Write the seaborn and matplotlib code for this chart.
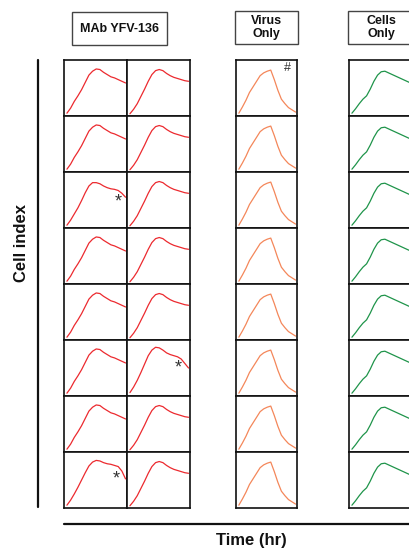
import numpy as np
import pandas as pd
import seaborn as sns
import matplotlib.pyplot as plt
from matplotlib.patches import Rectangle
from matplotlib.lines import Line2D

sns.set_style("white")
plt.rcParams["font.family"] = ["Liberation Sans", "DejaVu Sans"]

time_hr = [0, 5, 10, 15, 20, 25, 30, 35, 40, 45, 50, 55, 60, 65, 70, 75, 80]

mab_col1 = [0.05, 0.14, 0.26, 0.36, 0.47, 0.60, 0.73, 0.80, 0.84, 0.83, 0.78, 0.74, 0.70, 0.68, 0.65, 0.62, 0.59]
mab_col2 = [0.04, 0.12, 0.22, 0.35, 0.48, 0.62, 0.74, 0.81, 0.83, 0.81, 0.76, 0.72, 0.69, 0.67, 0.65, 0.63, 0.62]
mab_star1 = [0.05, 0.14, 0.25, 0.36, 0.49, 0.63, 0.75, 0.81, 0.81, 0.79, 0.75, 0.72, 0.70, 0.69, 0.67, 0.62, 0.55]
mab_star2 = [0.06, 0.16, 0.28, 0.42, 0.57, 0.72, 0.82, 0.87, 0.86, 0.82, 0.77, 0.74, 0.72, 0.70, 0.66, 0.58, 0.50]
mab_star3 = [0.05, 0.14, 0.25, 0.37, 0.50, 0.63, 0.75, 0.82, 0.85, 0.84, 0.81, 0.79, 0.78, 0.76, 0.74, 0.66, 0.52]
virus = [0.05, 0.16, 0.28, 0.42, 0.52, 0.62, 0.72, 0.77, 0.80, 0.82, 0.65, 0.46, 0.30, 0.22, 0.15, 0.11, 0.07]
cells = [0.05, 0.13, 0.22, 0.30, 0.36, 0.48, 0.62, 0.73, 0.79, 0.80, 0.77, 0.74, 0.71, 0.68, 0.65, 0.62, 0.59]

curves = {"a": mab_col1, "b": mab_col2, "s1": mab_star1, "s2": mab_star2,
          "s3": mab_star3, "virus": virus, "cells": cells}

# which trace sits in each of the 8 wells per column
col1_wells = ["a", "a", "s1", "a", "a", "a", "a", "s3"]
col2_wells = ["b", "b", "b", "b", "b", "s2", "b", "b"]
virus_wells = ["virus"] * 8
cells_wells = ["cells"] * 8

# asterisks (row, column)
stars = {(2, 0): (0.86, 0.46), (5, 1): (0.82, 0.50), (7, 0): (0.83, 0.52)}

W, H = 410, 549
fig = plt.figure(figsize=(W / 100, H / 100), dpi=100)


def add_ax(x0, x1, y0, y1):
    return fig.add_axes([x0 / W, 1 - y1 / H, (x1 - x0) / W, (y1 - y0) / H])


columns = [
    (64, 127, col1_wells, "#ec2a2f"),
    (127, 190, col2_wells, "#ec2a2f"),
    (236, 297, virus_wells, "#f4875a"),
    (349, 412, cells_wells, "#1f944a"),
]
row_top = 60
row_h = 56

for ci, (x0, x1, wells, color) in enumerate(columns):
    for ri, key in enumerate(wells):
        y0 = row_top + ri * row_h
        ax = add_ax(x0, x1, y0, y0 + row_h)
        df = pd.DataFrame({"time": time_hr, "ci": curves[key]})
        sns.lineplot(data=df, x="time", y="ci", ax=ax, color=color, lw=0.9)
        ax.set_xlim(-4, 82)
        ax.set_ylim(0, 1)
        ax.set_xticks([])
        ax.set_yticks([])
        ax.set_xlabel("")
        ax.set_ylabel("")
        for sp in ax.spines.values():
            sp.set_color("#111111")
            sp.set_linewidth(1.2)
        if (ri, ci) in stars:
            sx, sy = stars[(ri, ci)]
            ax.text(sx, sy, "*", transform=ax.transAxes, ha="center", va="center",
                    fontsize=13, color="#333333")
        if ci == 2 and ri == 0:
            ax.text(0.85, 0.86, "#", transform=ax.transAxes, ha="center", va="center",
                    fontsize=9, color="#333333")

# header boxes
headers = [
    ((72, 12, 167, 45), "MAb YFV-136"),
    ((235, 11, 298, 44), "Virus\nOnly"),
    ((348, 11, 415, 44), "Cells\nOnly"),
]
for (x0, y0, x1, y1), label in headers:
    fig.patches.append(Rectangle((x0 / W, 1 - y1 / H), (x1 - x0) / W, (y1 - y0) / H,
                                 transform=fig.transFigure, fill=False,
                                 edgecolor="#444444", lw=1.0))
    fig.text((x0 + x1) / 2 / W, 1 - (y0 + y1) / 2 / H, label, ha="center", va="center",
             fontsize=9, fontweight="bold", linespacing=1.05, color="#111111")

# axis lines
fig.add_artist(Line2D([38 / W, 38 / W], [1 - 60 / H, 1 - 507 / H], color="#111111", lw=1.6))
fig.add_artist(Line2D([64 / W, 1.0], [1 - 524 / H, 1 - 524 / H], color="#111111", lw=1.6))

fig.text(22 / W, 1 - 243 / H, "Cell index", rotation=90, ha="center", va="center",
         fontsize=12, fontweight="bold", color="#111111")
fig.text(251 / W, 1 - 540 / H, "Time (hr)", ha="center", va="center",
         fontsize=12, fontweight="bold", color="#111111")

fig.savefig("out.png", dpi=100)
